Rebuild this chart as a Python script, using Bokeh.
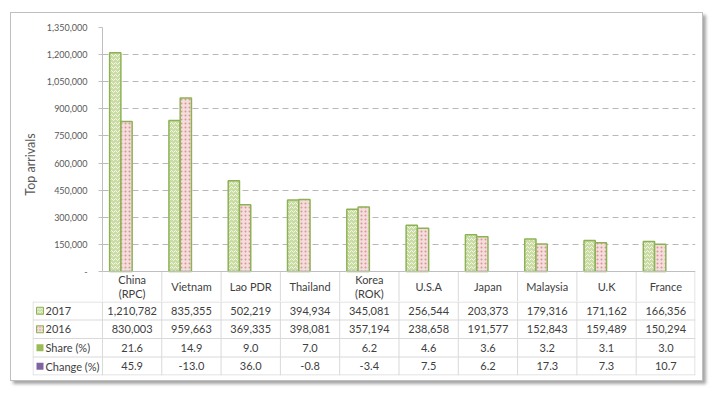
from bokeh.plotting import figure
from bokeh.models import Range1d, FixedTicker, NumeralTickFormatter, ColumnDataSource
from bokeh.layouts import column
from bokeh.core.properties import value
from bokeh.embed import file_html
from bokeh.resources import INLINE

# ---------------- data ----------------
countries = ["China\n(RPC)", "Vietnam", "Lao PDR", "Thailand", "Korea\n(ROK)",
             "U.S.A", "Japan", "Malaysia", "U.K", "France"]
arrivals_2017 = [1210782, 835355, 502219, 394934, 345081, 256544, 203373, 179316, 171162, 166356]
arrivals_2016 = [830003, 959663, 369335, 398081, 357194, 238658, 191577, 152843, 159489, 150294]
share_pct = [21.6, 14.9, 9.0, 7.0, 6.2, 4.6, 3.6, 3.2, 3.1, 3.0]
change_pct = [45.9, -13.0, 36.0, -0.8, -3.4, 7.5, 6.2, 17.3, 7.3, 10.7]
row_labels = ["2017", "2016", "Share (%)", "Change (%)"]
y_ticks = [0, 150000, 300000, 450000, 600000, 750000, 900000, 1050000, 1200000, 1350000]

FONT = "Lato"
GREEN_LINE = "#8db255"
FILL_2017 = "#cadca4"
FILL_2016 = "#f4dedd"
DOT_2016 = "#d99694"
SHARE_C = "#9bbb59"
CHANGE_C = "#8064a2"
GRID_C = "#d9d9d9"
TEXT_C = "#404040"

n = len(countries)
bw = 0.19
centers = [i + 0.5 for i in range(n)]
px = 1.0 / 59.3              # x data units per pixel

YMAX = 1350000
PX_Y = YMAX / 244.0          # y data units per pixel in the bar area
EXT = 30 * PX_Y              # header row of the table, below the baseline

# ---------------- bar chart (with the table's header row) ----------------
p = figure(width=691, height=288, x_range=Range1d(0, n), y_range=Range1d(-EXT, YMAX),
           x_axis_type=None, output_backend="svg", toolbar_location=None,
           min_border_left=91, min_border_right=7, min_border_top=14, min_border_bottom=0,
           outline_line_color=None, background_fill_color="white", border_fill_color="white",
           frame_align=False)

src = ColumnDataSource(dict(
    x17=[c - 1.5 * bw for c in centers],
    x16=[c - 0.5 * bw for c in centers],
    v17=arrivals_2017,
    v16=arrivals_2016,
))
p.vbar(x="x17", top="v17", bottom=0, width=bw, source=src,
       fill_color=FILL_2017, line_color=GREEN_LINE, line_width=1.5,
       hatch_pattern="horizontal_wave", hatch_color="#f3f8ea", hatch_scale=4, hatch_weight=1)
p.vbar(x="x16", top="v16", bottom=0, width=bw, source=src,
       fill_color=FILL_2016, line_color=GREEN_LINE, line_width=1.5,
       hatch_pattern="dot", hatch_color=DOT_2016, hatch_scale=4, hatch_weight=1)

# header cell lines and the category baseline
hdr_x = [float(i) for i in range(n)] + [n - px / 2]
p.segment(x0=hdr_x, y0=[-EXT] * len(hdr_x), x1=hdr_x, y1=[0] * len(hdr_x),
          line_color=GRID_C, line_width=1)
p.segment(x0=[0], y0=[0], x1=[n], y1=[0], line_color="#bfbfbf", line_width=1)

# header texts
p.text(x=centers, y=[-15 * PX_Y] * n, text=countries, text_align="center",
       text_baseline="middle", text_font=value(FONT), text_font_size=value("11px"),
       text_color=TEXT_C, text_line_height=1.15)

yax = p.yaxis[0]
yax.ticker = FixedTicker(ticks=y_ticks)
yax.bounds = (0, YMAX)
yax.formatter = NumeralTickFormatter(format="0,0")
yax.major_label_overrides = {0: "-"}
yax.axis_line_color = "#bfbfbf"
yax.major_tick_line_color = "#bfbfbf"
yax.major_tick_out = 4
yax.major_tick_in = 0
yax.minor_tick_line_color = None
yax.major_label_standoff = 11
yax.major_label_text_font = FONT
yax.major_label_text_font_size = "9px"
yax.major_label_text_color = "#595959"
yax.axis_label = "Top arrivals"
yax.axis_label_text_font = FONT
yax.axis_label_text_font_size = "12.5px"
yax.axis_label_text_font_style = "normal"
yax.axis_label_text_color = "#595959"
yax.axis_label_standoff = 6

p.ygrid.ticker = FixedTicker(ticks=y_ticks[1:])
p.ygrid.grid_line_color = "#b8b8b8"
p.ygrid.grid_line_dash = "6 4"
p.ygrid.grid_line_width = 1

# ---------------- data table rows ----------------
LEFT = -1.18
TOP = 74
t = figure(width=691, height=79, x_range=Range1d(LEFT, n), y_range=Range1d(0, TOP),
           x_axis_type=None, y_axis_type=None, output_backend="svg", toolbar_location=None,
           min_border_left=21, min_border_right=7, min_border_top=0, min_border_bottom=5,
           outline_line_color=None, background_fill_color="white", border_fill_color="white",
           frame_align=False)

row_tops = [74, 55.5, 37, 18.5]
row_h = 18.5

hy = [73.5, 55.5, 37, 18.5, 0.5]
t.segment(x0=[LEFT + px / 2] * len(hy), y0=hy, x1=[n] * len(hy), y1=hy,
          line_color=GRID_C, line_width=1)
vx = [LEFT + px / 2] + [float(i) for i in range(n)] + [n - px / 2]
t.segment(x0=vx, y0=[0] * len(vx), x1=vx, y1=[TOP] * len(vx), line_color=GRID_C, line_width=1)

cx, cy, ct = [], [], []
rows = [[f"{v:,}" for v in arrivals_2017],
        [f"{v:,}" for v in arrivals_2016],
        [f"{v:.1f}" for v in share_pct],
        [f"{v:.1f}" for v in change_pct]]
for r, vals in enumerate(rows):
    for i, s in enumerate(vals):
        cx.append(centers[i]); cy.append(row_tops[r] - row_h / 2); ct.append(s)
t.text(x=cx, y=cy, text=ct, text_align="center", text_baseline="middle",
       text_font=value(FONT), text_font_size=value("11px"), text_color=TEXT_C)

# legend keys
kx = LEFT + 7.5 * px
ky = [rt - row_h / 2 for rt in row_tops]
kw = 7 * px
t.rect(x=[kx], y=[ky[0]], width=kw, height=7, fill_color=FILL_2017, line_color=GREEN_LINE,
       line_width=1, hatch_pattern="horizontal_wave", hatch_color="#f3f8ea", hatch_scale=3)
t.rect(x=[kx], y=[ky[1]], width=kw, height=7, fill_color=FILL_2016, line_color=GREEN_LINE,
       line_width=1, hatch_pattern="dot", hatch_color=DOT_2016, hatch_scale=3)
t.rect(x=[kx], y=[ky[2]], width=kw, height=7, fill_color=SHARE_C, line_color=None)
t.rect(x=[kx], y=[ky[3]], width=kw, height=7, fill_color=CHANGE_C, line_color=None)
t.text(x=[LEFT + 13 * px] * 4, y=ky, text=row_labels, text_align="left", text_baseline="middle",
       text_font=value(FONT), text_font_size=value("11px"), text_color=TEXT_C)

layout = column(p, t, spacing=0, margin=(12, 0, 0, 10),
                styles={"border": "1px solid #bfbfbf",
                        "box-shadow": "3px 3px 3px rgba(0,0,0,0.35)",
                        "background": "white"})

open("out.html", "w").write(file_html(layout, INLINE))
